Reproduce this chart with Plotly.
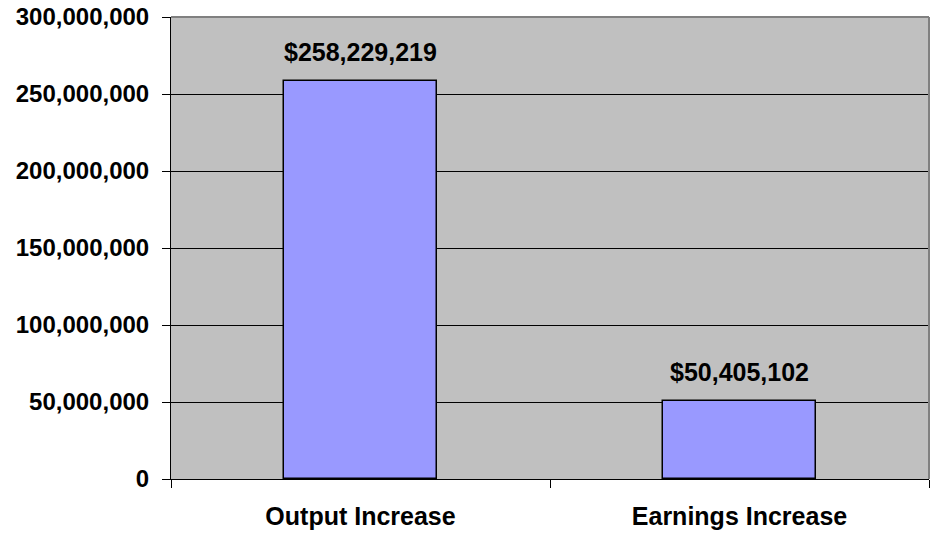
import plotly.graph_objects as go

categories = ["Output Increase", "Earnings Increase"]
values = [258229219, 50405102]
labels = ["$258,229,219", "$50,405,102"]
y_ticks = [0, 50000000, 100000000, 150000000, 200000000, 250000000, 300000000]
y_tick_text = ["0", "50,000,000", "100,000,000", "150,000,000",
               "200,000,000", "250,000,000", "300,000,000"]

FONT = "Liberation Sans, Arial, sans-serif"

fig = go.Figure()
fig.add_trace(go.Bar(
    x=categories,
    y=values,
    width=0.406,
    marker=dict(color="#9999FF", line=dict(color="#000000", width=1.5)),
    hoverinfo="skip",
))

# value labels above each bar
for cat, val, lab in zip(categories, values, labels):
    fig.add_annotation(
        x=cat, y=val, text=f"<b>{lab}</b>", showarrow=False,
        yanchor="bottom", yshift=13,
        font=dict(family=FONT, size=25, color="#000000"),
    )

# grey frame on the top and right of the plot area
fig.add_shape(type="line", xref="paper", yref="paper", x0=0, x1=1, y0=1, y1=1,
              line=dict(color="#808080", width=2))
fig.add_shape(type="line", xref="paper", yref="paper", x0=1, x1=1, y0=0, y1=1,
              line=dict(color="#808080", width=2))

fig.update_layout(
    width=931, height=539,
    margin=dict(l=171, r=2, t=17, b=60),
    paper_bgcolor="#FFFFFF",
    plot_bgcolor="#C0C0C0",
    showlegend=False,
    bargap=0,
    font=dict(family=FONT, color="#000000"),
)
fig.update_xaxes(
    range=[-0.5, 1.5],
    showline=True, linecolor="#000000", linewidth=1,
    ticks="outside", tickson="boundaries", ticklen=8, tickcolor="#000000",
    tickfont=dict(family=FONT, size=25, color="#000000", weight="bold"),
    ticklabelstandoff=15,
    showgrid=False,
)
fig.update_yaxes(
    range=[0, 300000000],
    tickvals=y_ticks, ticktext=y_tick_text,
    showline=True, linecolor="#000000", linewidth=1,
    ticks="outside", ticklen=8, tickcolor="#000000",
    tickfont=dict(family=FONT, size=24, color="#000000", weight="bold"),
    ticklabelstandoff=8,
    showgrid=True, gridcolor="#000000", gridwidth=1,
    zeroline=False,
)

fig.write_html("out.html")
